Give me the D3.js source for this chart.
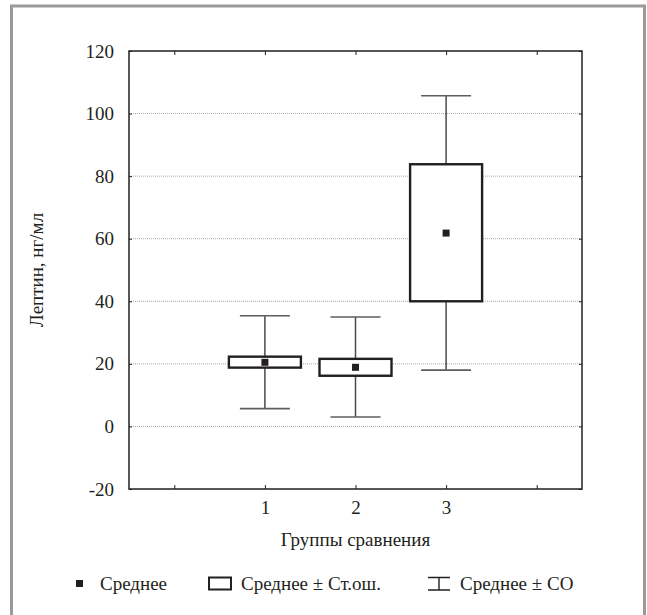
<!DOCTYPE html>
<html>
<head>
<meta charset="utf-8">
<script src="https://cdn.jsdelivr.net/npm/d3@7"></script>
<style>
  body { margin: 0; background: #fff; }
  svg { display: block; }
  svg text { font-family: "Liberation Serif", "Times New Roman", Times, "DejaVu Serif", "Noto Serif", serif !important; fill: #231f20; }
</style>
</head>
<body>
<div id="chart"></div>
<script>
// groups and their stats
const groups = ['1', '2', '3']
const means = [20.5, 18.9, 61.8]
const seLow = [18.8, 16.2, 40.0]
const seHigh = [22.3, 21.6, 83.8]
const sdLow = [5.7, 3.0, 18.0]
const sdHigh = [35.4, 35.0, 105.7]
const yTicks = [-20, 0, 20, 40, 60, 80, 100, 120]
const xTicks = [0, 1, 2, 3, 4] // positions along the category axis, 1..3 are the groups

const width = 647
const height = 615
const margin = { top: 51, right: 65, bottom: 126, left: 129 }
const ink = '#231f20'

const svg = d3
  .select('#chart')
  .append('svg')
  .attr('width', width)
  .attr('height', height)

// outer grey frame
svg.append('rect')
  .attr('x', 11.5).attr('y', 6)
  .attr('width', 633).attr('height', 640)
  .attr('fill', 'none')
  .attr('stroke', '#9a9a9a')
  .attr('stroke-width', 3)

const x = d3.scaleLinear()
  .domain([-0.5, 4.5])
  .range([margin.left, width - margin.right])

const y = d3.scaleLinear()
  .domain([-20, 120])
  .range([height - margin.bottom, margin.top])

const g = svg.append('g')

// dotted grid
g.append('g')
  .selectAll('line')
  .data(yTicks.filter((d) => d > -20 && d < 120))
  .join('line')
  .attr('x1', x(-0.5)).attr('x2', x(4.5))
  .attr('y1', (d) => y(d)).attr('y2', (d) => y(d))
  .attr('stroke', '#a8a8a8')
  .attr('stroke-width', 1)
  .attr('stroke-dasharray', '1,1')

// axes (ticks pointing inward)
const yAxis = d3.axisLeft(y).tickValues(yTicks).tickSize(-3).tickPadding(15)
  .tickFormat((d) => String(d))
const yAxisR = d3.axisRight(y).tickValues(yTicks).tickSize(-3).tickFormat('')
const xAxis = d3.axisBottom(x).tickValues(xTicks).tickSize(-4).tickPadding(12)
  .tickFormat((d) => groups[d - 1] || '')
const xAxisT = d3.axisTop(x).tickValues(xTicks).tickSize(-4).tickFormat('')

function styleAxis(sel) {
  sel.attr('font-family', null)
  sel.select('.domain').remove()
  sel.selectAll('.tick line').attr('stroke', ink).attr('stroke-width', 1)
  sel.selectAll('.tick text')
    .style('font-size', '19px')
    .attr('fill', ink)
}

g.append('g').attr('transform', `translate(${x(-0.5)},0)`).call(yAxis).call(styleAxis)
g.append('g').attr('transform', `translate(${x(4.5)},0)`).call(yAxisR).call(styleAxis)
g.append('g').attr('transform', `translate(0,${y(-20)})`).call(xAxis).call(styleAxis)
g.append('g').attr('transform', `translate(0,${y(120)})`).call(xAxisT).call(styleAxis)

// plot frame
g.append('rect')
  .attr('x', x(-0.5)).attr('y', y(120))
  .attr('width', x(4.5) - x(-0.5)).attr('height', y(-20) - y(120))
  .attr('fill', 'none')
  .attr('stroke', ink)
  .attr('stroke-width', 1.5)

const boxW = 72
const capW = 50

const items = g.append('g')
  .selectAll('g')
  .data(groups.map((name, i) => ({ name, pos: i + 1, i })))
  .join('g')

// whisker stems
items.append('line')
  .attr('x1', (d) => x(d.pos)).attr('x2', (d) => x(d.pos))
  .attr('y1', (d) => y(sdLow[d.i])).attr('y2', (d) => y(sdHigh[d.i]))
  .attr('stroke', '#4a4a4a')
  .attr('stroke-width', 1.5)

// caps
items.selectAll('line.cap')
  .data((d) => [{ pos: d.pos, v: sdLow[d.i] }, { pos: d.pos, v: sdHigh[d.i] }])
  .join('line')
  .attr('class', 'cap')
  .attr('x1', (d) => x(d.pos) - capW / 2).attr('x2', (d) => x(d.pos) + capW / 2)
  .attr('y1', (d) => y(d.v)).attr('y2', (d) => y(d.v))
  .attr('stroke', '#5e5e5e')
  .attr('stroke-width', 1.6)

// SE boxes
items.append('rect')
  .attr('x', (d) => x(d.pos) - boxW / 2)
  .attr('y', (d) => y(seHigh[d.i]))
  .attr('width', boxW)
  .attr('height', (d) => y(seLow[d.i]) - y(seHigh[d.i]))
  .attr('fill', '#fff')
  .attr('stroke', ink)
  .attr('stroke-width', 2.4)

// means
items.append('rect')
  .attr('x', (d) => x(d.pos) - 3.5)
  .attr('y', (d) => y(means[d.i]) - 3.5)
  .attr('width', 7).attr('height', 7)
  .attr('fill', ink)

// axis titles
svg.append('text')
  .attr('x', x(2)).attr('y', 546)
  .attr('text-anchor', 'middle')
  .style('font-size', '19px')
  .text('Группы сравнения')

svg.append('text')
  .attr('transform', `translate(43,${y(50)}) rotate(-90)`)
  .attr('text-anchor', 'middle')
  .style('font-size', '19px')
  .text('Лептин, нг/мл')

// legend
const leg = svg.append('g')
leg.append('rect').attr('x', 76).attr('y', 580).attr('width', 7).attr('height', 7).attr('fill', ink)
leg.append('text').attr('x', 100).attr('y', 590).style('font-size', '19px').text('Среднее')

leg.append('rect').attr('x', 209).attr('y', 577.5).attr('width', 22).attr('height', 12)
  .attr('fill', '#fff').attr('stroke', ink).attr('stroke-width', 2)
leg.append('text').attr('x', 241).attr('y', 590).style('font-size', '19px').text('Среднее ± Ст.ош.')

leg.append('path')
  .attr('d', 'M428,577.5H450M439,577.5V590M428,590H450')
  .attr('fill', 'none').attr('stroke', ink).attr('stroke-width', 1.4)
leg.append('text').attr('x', 460).attr('y', 590).style('font-size', '19px').text('Среднее ± СО')
</script>
</body>
</html>
